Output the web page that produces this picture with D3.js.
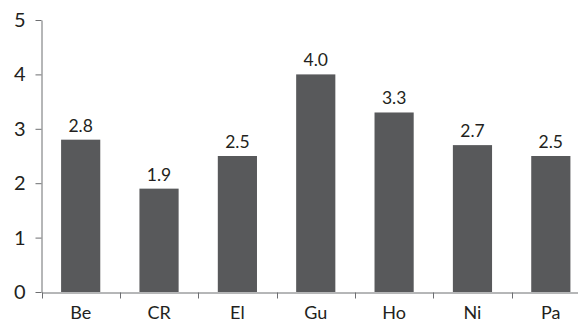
<!DOCTYPE html>
<html>
<head>
<meta charset="utf-8">
<script src="https://cdn.jsdelivr.net/npm/d3@7"></script>
<style>
  html, body { margin: 0; padding: 0; background: #fff; }
  svg { display: block; }
  text { font-family: "Lato", "Open Sans", sans-serif; fill: #231f20; }
</style>
</head>
<body>
<svg id="chart" width="578" height="322"></svg>
<script>
const categories = ["Be", "CR", "El", "Gu", "Ho", "Ni", "Pa"];
const values = [2.8, 1.9, 2.5, 4.0, 3.3, 2.7, 2.5];
const yTicks = [0, 1, 2, 3, 4, 5];

const svg = d3.select("#chart");
const axisColor = "#6d6e71";
const barColor = "#58595b";

const x = d3.scaleBand()
  .domain(categories)
  .range([41.5, 590])
  .paddingInner(0.5)
  .paddingOuter(0.25);

const y = d3.scaleLinear()
  .domain([0, 5])
  .range([292, 20]);

// bars
svg.append("g")
  .selectAll("rect")
  .data(categories)
  .join("rect")
  .attr("x", d => x(d))
  .attr("width", x.bandwidth())
  .attr("y", (d, i) => y(values[i]))
  .attr("height", (d, i) => y(0) - y(values[i]))
  .attr("fill", barColor);

// value labels
svg.append("g")
  .selectAll("text")
  .data(categories)
  .join("text")
  .attr("x", d => x(d) + x.bandwidth() / 2)
  .attr("y", (d, i) => y(values[i]) - 8)
  .attr("text-anchor", "middle")
  .style("font-size", "17.5px")
  .text((d, i) => values[i].toFixed(1));

// y axis
const yAxis = svg.append("g")
  .attr("transform", "translate(41.5,0)")
  .call(d3.axisLeft(y).tickValues(yTicks).tickFormat(d3.format("d")).tickSize(6).tickSizeOuter(0).tickPadding(10));
yAxis.select(".domain").attr("stroke", axisColor);
yAxis.selectAll(".tick line").attr("stroke", axisColor);
yAxis.selectAll(".tick text")
  .style("font-size", "20px")
  .attr("fill", "#231f20");

// x axis: labels centred under bars, ticks on band boundaries
const xAxis = svg.append("g")
  .attr("transform", "translate(0,292.5)")
  .call(d3.axisBottom(x).tickSize(0).tickSizeOuter(0).tickPadding(14));
xAxis.select(".domain").attr("stroke", axisColor);
xAxis.selectAll(".tick line").remove();
xAxis.selectAll(".tick text")
  .style("font-size", "18px")
  .attr("fill", "#231f20");

const step = x.step();
const start = x.range()[0];
xAxis.append("g")
  .selectAll("line")
  .data(d3.range(categories.length + 1))
  .join("line")
  .attr("x1", i => Math.round(start + i * step) + 0.5)
  .attr("x2", i => Math.round(start + i * step) + 0.5)
  .attr("y1", 0)
  .attr("y2", 6)
  .attr("stroke", axisColor);
</script>
</body>
</html>
